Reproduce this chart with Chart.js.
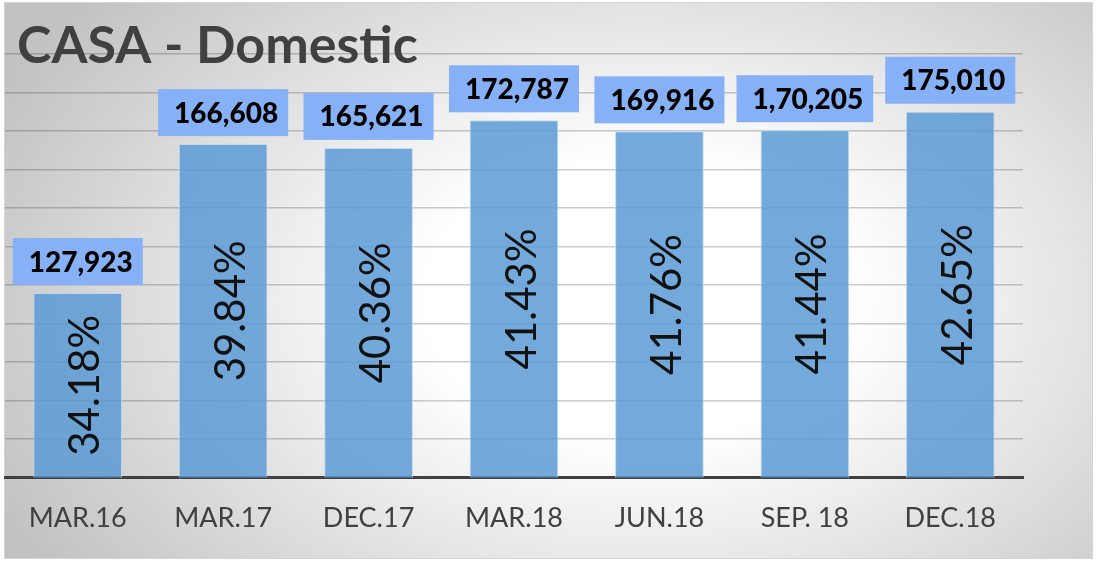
<!DOCTYPE html>
<html>
<head>
<meta charset="utf-8">
<script src="https://cdn.jsdelivr.net/npm/chart.js@4.4.1/dist/chart.umd.min.js"></script>
<style>
  html, body { margin: 0; padding: 0; background: #fff; }
</style>
</head>
<body>
<canvas id="casaChart" width="1096" height="562"></canvas>
<script>
// data
const categories = ['MAR.16', 'MAR.17', 'DEC.17', 'MAR.18', 'JUN.18', 'SEP. 18', 'DEC.18'];
const casaValues = [127923, 166608, 165621, 172787, 169916, 170205, 175010];
const casaLabels = ['127,923', '166,608', '165,621', '172,787', '169,916', '1,70,205', '175,010'];
const casaShare = [34.18, 39.84, 40.36, 41.43, 41.76, 41.44, 42.65];
const yMin = 80000;
const yMax = 190000;
const yStep = 10000;

// grey radial panel behind everything
const panelBackground = {
    id: 'panelBackground',
    beforeDraw(chart) {
        const c = chart.ctx;
        c.save();
        c.fillStyle = '#ffffff';
        c.fillRect(0, 0, chart.width, chart.height);
        c.translate(640, 300);
        c.scale(1, 0.65);
        const g = c.createRadialGradient(0, 0, 0, 0, 0, 720);
        g.addColorStop(0, '#ffffff');
        g.addColorStop(0.3, '#ffffff');
        g.addColorStop(1, '#c2c2c2');
        c.fillStyle = g;
        c.fillRect(4 - 640, (2 - 300) / 0.65, 1089, 557 / 0.65);
        c.restore();
        c.save();
        c.strokeStyle = '#d4d4d4';
        c.lineWidth = 1;
        c.strokeRect(4.5, 2.5, 1088, 556);
        c.restore();
    }
};

// value boxes above bars and rotated share inside bars
const barLabels = {
    id: 'barLabels',
    afterDatasetsDraw(chart) {
        const c = chart.ctx;
        const base = chart.chartArea.bottom;
        const meta = chart.getDatasetMeta(0);
        meta.data.forEach((bar, i) => {
            c.save();
            c.translate(bar.x + 8, (bar.y + base) / 2);
            c.rotate(-Math.PI / 2);
            c.font = '42px Lato';
            c.fillStyle = '#111111';
            c.textAlign = 'center';
            c.textBaseline = 'middle';
            c.fillText(casaShare[i].toFixed(2) + '%', 0, 0);
            c.restore();

            c.save();
            c.font = '900 28px Lato';
            const tw = c.measureText(casaLabels[i]).width;
            const bw = tw + 26;
            const bh = 47;
            const bottom = bar.y - 8;
            c.fillStyle = '#86b1f6';
            c.fillRect(bar.x - bw / 2, bottom - bh, bw, bh);
            c.fillStyle = '#000000';
            c.textAlign = 'center';
            c.textBaseline = 'middle';
            c.fillText(casaLabels[i], bar.x + 3, bottom - bh / 2 + 1);
            c.restore();
        });
    },
    afterDraw(chart) {
        const c = chart.ctx;
        c.save();
        c.font = 'bold 52px Lato';
        c.fillStyle = '#404040';
        c.textBaseline = 'alphabetic';
        c.fillText('CASA - Domestic', 17, 63);
        c.restore();
    }
};

new Chart(document.getElementById('casaChart'), {
    type: 'bar',
    data: {
        labels: categories,
        datasets: [{
            data: casaValues,
            backgroundColor: 'rgba(91, 155, 213, 0.85)',
            borderColor: 'rgba(190, 215, 240, 0.9)',
            borderWidth: 1,
            barPercentage: 0.61,
            categoryPercentage: 1
        }]
    },
    options: {
        responsive: false,
        animation: false,
        devicePixelRatio: 1,
        layout: {
            padding: { left: 5, right: 73, top: 54, bottom: 4 }
        },
        plugins: {
            legend: { display: false },
            tooltip: { enabled: false },
            title: { display: false }
        },
        scales: {
            x: {
                z: 1,
                grid: { display: false, drawTicks: false },
                border: { display: true, color: '#404040', width: 3 },
                ticks: {
                    color: '#404040',
                    font: { family: 'Lato', size: 27 },
                    padding: 24
                }
            },
            y: {
                min: yMin,
                max: yMax,
                ticks: { display: false, stepSize: yStep },
                grid: { color: 'rgba(0, 0, 0, 0.2)', lineWidth: 1.5, drawTicks: false },
                border: { display: false }
            }
        }
    },
    plugins: [panelBackground, barLabels]
});
</script>
</body>
</html>
